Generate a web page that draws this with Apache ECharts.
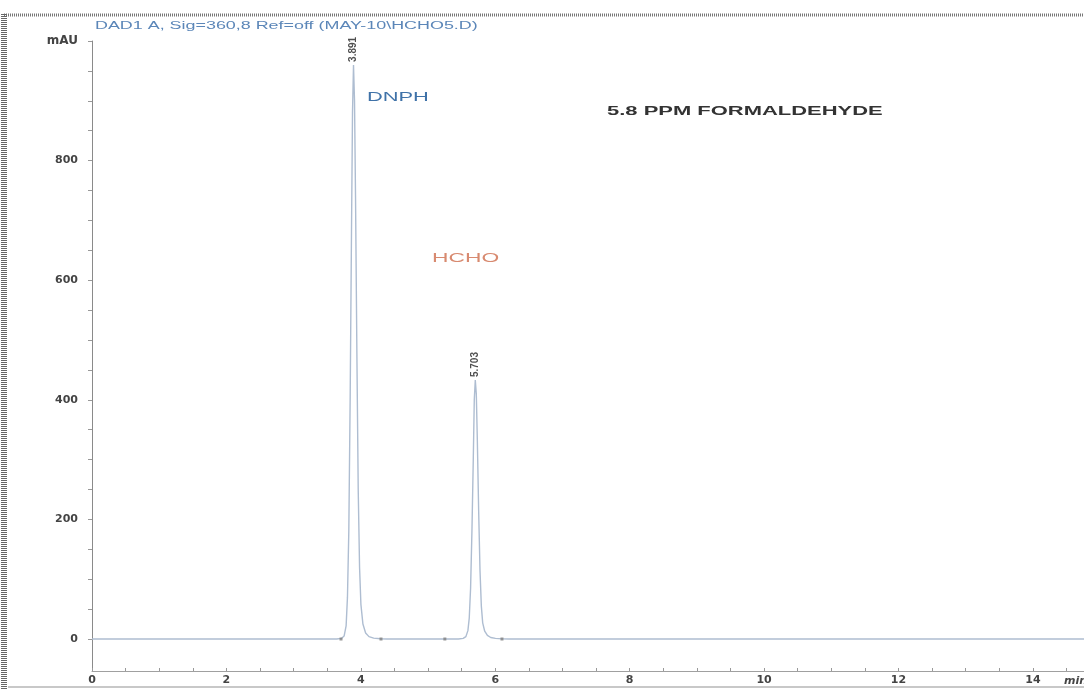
<!DOCTYPE html>
<html>
<head>
<meta charset="utf-8">
<script src="https://cdn.jsdelivr.net/npm/echarts@6/dist/echarts.min.js"></script>
<style>
html,body{margin:0;padding:0;background:#fff;}
#chart{width:1084px;height:689px;}
</style>
</head>
<body>
<div id="chart"></div>
<script>
// Chromatogram trace: time (min) and signal (mAU)
var traceTime = [0, 3.641, 3.711, 3.751, 3.781, 3.801, 3.821, 3.841, 3.861, 3.876, 3.891, 3.906, 3.921, 3.941, 3.961, 3.981, 4.001, 4.031, 4.071, 4.121, 4.191, 4.291, 4.391,
  5.453, 5.523, 5.563, 5.593, 5.613, 5.633, 5.653, 5.673, 5.688, 5.703, 5.718, 5.733, 5.753, 5.773, 5.793, 5.813, 5.843, 5.883, 5.933, 6.003, 6.103, 6.203, 14.76];
var traceValue = [0, 0, 1, 5, 22, 70, 180, 400, 680, 880, 960, 900, 740, 480, 250, 120, 58, 25, 10, 4, 1.5, 0.5, 0,
  0, 1, 4, 14, 35, 85, 180, 300, 400, 433, 410, 335, 215, 115, 55, 27, 13, 6, 2.5, 1, 0.3, 0, 0];
// Peak annotations
var peakTimes = [3.891, 5.703];
var peakHeights = [960, 433];
// Integration baseline markers
var markerTimes = [3.705, 4.30, 5.25, 6.10];
// Axis labels and ticks
var xLabelValues = [0, 2, 4, 6, 8, 10, 12, 14];
var xTickValues = [0, 0.5, 1, 1.5, 2, 2.5, 3, 3.5, 4, 4.5, 5, 5.5, 6, 6.5, 7, 7.5, 8, 8.5, 9, 9.5, 10, 10.5, 11, 11.5, 12, 12.5, 13, 13.5, 14, 14.5];
var yLabelValues = [0, 200, 400, 600, 800, 1000];
var yTickValues = [0, 50, 100, 150, 200, 250, 300, 350, 400, 450, 500, 550, 600, 650, 700, 750, 800, 850, 900, 950, 1000];
var yUnit = 'mAU';
var xUnit = 'min';
var titleText = 'DAD1 A, Sig=360,8 Ref=off (MAY-10\\HCHO5.D)';
var compoundNames = ['DNPH', 'HCHO'];
var sampleText = '5.8 PPM FORMALDEHYDE';

var trace = traceTime.map(function (t, i) { return [t, traceValue[i]]; });
var peaks = peakTimes.map(function (t, i) { return [t, peakHeights[i]]; });
var markers = markerTimes.map(function (t) { return [t, 0]; });

var chart = echarts.init(document.getElementById('chart'), null, {renderer: 'canvas'});
chart.setOption({
  animation: false,
  backgroundColor: '#ffffff',
  grid: {left: 92, right: 0, top: 41, bottom: 18, containLabel: false},
  xAxis: {
    type: 'value', min: 0, max: 14.76,
    axisLine: {show: true, onZero: false, lineStyle: {color: '#a0a0a0', width: 1}},
    axisTick: {show: true, inside: true, length: 3, customValues: xTickValues, lineStyle: {color: '#999'}},
    axisLabel: {customValues: xLabelValues, margin: 4, color: '#444', fontFamily: 'DejaVu Sans', fontWeight: 'bold', fontSize: 11,
      formatter: function (v) { return String(v); }},
    splitLine: {show: false}
  },
  yAxis: {
    type: 'value', min: -53.5, max: 1000,
    axisLine: {show: true, onZero: false, lineStyle: {color: '#8a8a8a', width: 1}},
    axisTick: {show: true, length: 4, customValues: yTickValues, lineStyle: {color: '#999'}},
    axisLabel: {customValues: yLabelValues, margin: 14, color: '#444', fontFamily: 'DejaVu Sans', fontWeight: 'bold', fontSize: 11,
      formatter: function (v) { return v === 1000 ? '{u|' + yUnit + '}' : String(v); },
      rich: {u: {fontFamily: 'DejaVu Sans', fontWeight: 'bold', fontSize: 12, color: '#444'}}},
    splitLine: {show: false}
  },
  series: [
    {
      type: 'line', data: trace, symbol: 'none', smooth: false,
      lineStyle: {color: '#aebdd1', width: 1.4},
      z: 2
    },
    {
      type: 'scatter', data: markers, symbol: 'rect', symbolSize: 3,
      itemStyle: {color: '#808080'}, z: 3
    },
    {
      type: 'scatter', data: peaks, symbolSize: 0,
      label: {
        show: true, position: 'top', distance: 3, rotate: 90, align: 'left', verticalAlign: 'middle',
        fontFamily: 'Liberation Sans', fontWeight: 'bold', fontSize: 10, color: '#222',
        formatter: function (p) { return p.value[0].toFixed(3); }
      },
      z: 4
    }
  ],
  graphic: [
    {type: 'line', shape: {x1: 4, y1: 15, x2: 1084, y2: 15}, style: {stroke: '#777', lineWidth: 3, lineDash: [1, 1]}},
    {type: 'line', shape: {x1: 4, y1: 14, x2: 4, y2: 689}, style: {stroke: '#666', lineWidth: 6, lineDash: [1, 1]}},
    {type: 'line', shape: {x1: 8, y1: 687, x2: 1084, y2: 687}, style: {stroke: '#c8c8c8', lineWidth: 2}},
    {type: 'text', x: 95, y: 26, scaleX: 1.79, style: {text: titleText, fill: '#5b86b8', font: '10px "Liberation Sans"', textAlign: 'left', textVerticalAlign: 'middle'}},
    {type: 'text', x: 367, y: 98, scaleX: 1.82, style: {text: compoundNames[0], fill: '#3f72a8', font: '12px "Liberation Sans"', textAlign: 'left', textVerticalAlign: 'middle'}},
    {type: 'text', x: 432, y: 259, scaleX: 1.9, style: {text: compoundNames[1], fill: '#d88a70', font: '12px "Liberation Sans"', textAlign: 'left', textVerticalAlign: 'middle'}},
    {type: 'text', x: 607, y: 112, scaleX: 1.83, style: {text: sampleText, fill: '#333', font: 'bold 12px "Liberation Sans"', textAlign: 'left', textVerticalAlign: 'middle'}},
    {type: 'text', x: 1064, y: 681, style: {text: xUnit, fill: '#444', font: 'bold italic 11px "DejaVu Sans"', textAlign: 'left', textVerticalAlign: 'middle'}}
  ]
});
</script>
</body>
</html>
